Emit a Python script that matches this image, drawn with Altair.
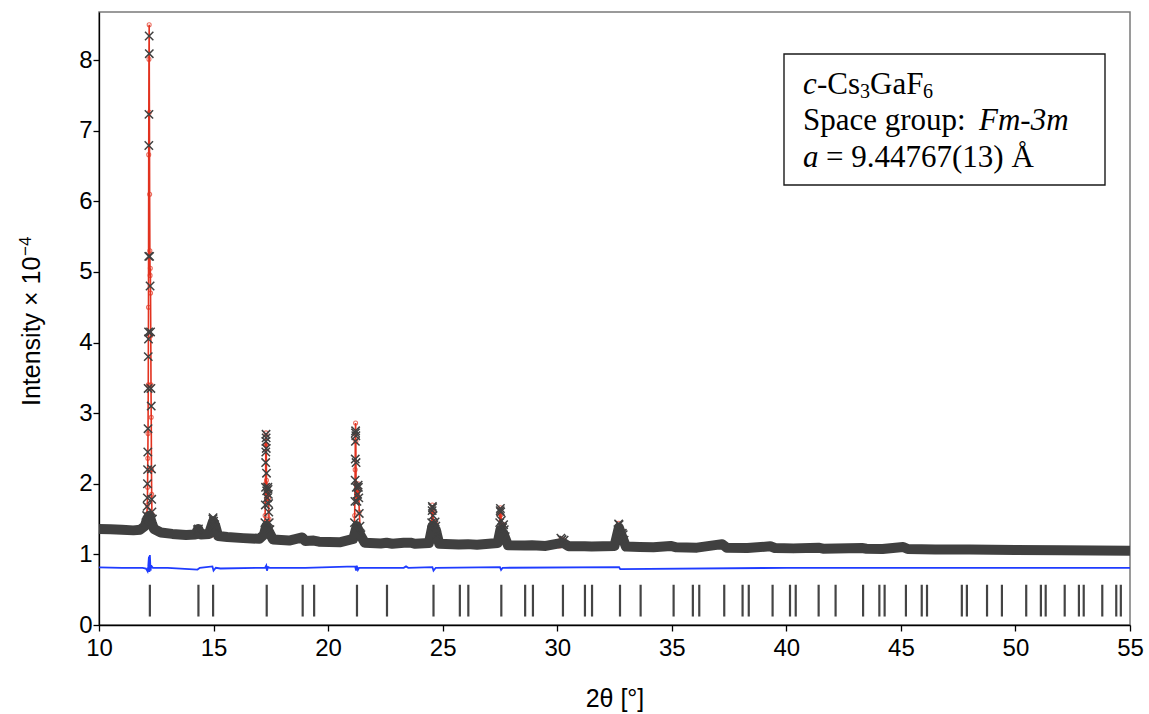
import altair as alt
import pandas as pd

# ---------------- data ----------------
# observed background band (centre line of the dense x-marker band)
band_x = [10.0, 10.5, 11.0, 11.5, 11.8, 12.0, 12.1, 12.2, 12.3, 12.4, 12.7, 13.2, 13.8, 14.2, 14.33,
          14.45, 14.8, 14.98, 15.08, 15.2, 15.6, 16.3, 17.0, 17.2, 17.3, 17.45, 17.6, 18.3, 18.87,
          19.0, 19.37, 19.6, 20.5, 21.1, 21.25, 21.4, 21.6, 22.3, 22.55, 22.8, 23.3, 23.6, 23.8,
          24.4, 24.55, 24.7, 24.85, 25.7, 26.1, 26.5, 27.4, 27.52, 27.65, 27.85, 28.6, 28.9, 29.5,
          30.15, 30.3, 30.5, 31.2, 31.5, 32.5, 32.69, 32.8, 33.0, 33.6, 34.2, 34.95, 35.2, 36.1,
          37.2, 37.4, 38.3, 39.3, 39.5, 40.3, 41.4, 41.6, 43.3, 43.5, 44.2, 45.1, 45.3, 46.5, 48.0,
          50.0, 52.0, 55.0]
band_y = [1.36, 1.355, 1.35, 1.34, 1.35, 1.40, 1.50, 1.55, 1.45, 1.36, 1.31, 1.29, 1.275, 1.28, 1.36,
          1.28, 1.29, 1.47, 1.40, 1.26, 1.245, 1.23, 1.22, 1.28, 1.40, 1.30, 1.21, 1.195, 1.24,
          1.19, 1.195, 1.18, 1.17, 1.22, 1.40, 1.28, 1.165, 1.155, 1.165, 1.15, 1.165, 1.165, 1.15,
          1.16, 1.40, 1.35, 1.15, 1.14, 1.145, 1.135, 1.16, 1.35, 1.30, 1.13, 1.125, 1.13, 1.12,
          1.16, 1.155, 1.115, 1.115, 1.11, 1.12, 1.38, 1.28, 1.11, 1.105, 1.10, 1.12, 1.10, 1.095,
          1.145, 1.095, 1.09, 1.115, 1.09, 1.085, 1.095, 1.08, 1.09, 1.08, 1.075, 1.105, 1.075, 1.07, 1.068,
          1.063, 1.058, 1.053]

# observed points on the peaks (x markers)
obs_x = [12.05, 12.08, 12.10, 12.11, 12.115, 12.12, 12.13, 12.14, 12.145, 12.15, 12.16, 12.165,
         12.17, 12.175, 12.18, 12.19, 12.195, 12.21, 12.23, 12.25, 12.265, 12.28, 12.29, 12.30, 12.31, 12.33,
         14.30, 14.34, 14.95, 14.97, 14.98, 15.00, 15.05, 15.08,
         17.24, 17.26, 17.27, 17.275, 17.28, 17.285, 17.29, 17.295, 17.30, 17.31, 17.32, 17.35, 17.37,
         17.38, 17.39, 17.40, 17.41, 17.43, 17.46,
         21.15, 21.17, 21.18, 21.185, 21.19, 21.195, 21.20, 21.21, 21.22, 21.23, 21.26, 21.29, 21.31,
         21.32, 21.34, 21.36, 21.39, 21.43,
         24.52, 24.54, 24.55, 24.56, 24.58, 24.62, 24.67, 24.70, 24.74,
         27.49, 27.51, 27.52, 27.53, 27.56, 27.62, 27.66, 27.69, 27.73,
         30.16, 30.21, 30.30,
         32.65, 32.68, 32.70, 32.74, 32.84, 32.88, 32.92]
obs_y = [1.45, 1.55, 1.68, 1.80, 2.00, 2.20, 2.45, 2.78, 3.35, 3.80, 4.05, 4.15,
         5.22, 6.79, 7.23, 8.34, 8.09, 5.22, 4.80, 4.15, 3.35, 3.10, 2.21, 1.78, 1.60, 1.50,
         1.35, 1.36, 1.40, 1.50, 1.52, 1.47, 1.42, 1.38,
         1.45, 1.70, 1.95, 2.30, 2.45, 2.60, 2.70, 2.65, 2.50, 2.15, 1.90, 1.80, 1.95,
         1.92, 1.85, 1.72, 1.60, 1.45, 1.35,
         1.45, 1.75, 2.05, 2.35, 2.60, 2.72, 2.75, 2.68, 2.30, 1.95, 1.75, 1.85, 1.98,
         1.95, 1.80, 1.58, 1.40, 1.28,
         1.45, 1.62, 1.68, 1.66, 1.55, 1.42, 1.46, 1.40, 1.28,
         1.45, 1.62, 1.65, 1.60, 1.48, 1.38, 1.42, 1.35, 1.25,
         1.23, 1.21, 1.20,
         1.35, 1.43, 1.42, 1.30, 1.30, 1.28, 1.20]

# calculated profile (red line with open circles), one segment per peak
calc_x = [12.00, 12.06, 12.09, 12.11, 12.12, 12.13, 12.14, 12.15, 12.16, 12.17, 12.18, 12.19, 12.20,
          12.21, 12.22, 12.23, 12.24, 12.25, 12.26, 12.27, 12.28, 12.29, 12.30, 12.31, 12.33, 12.37, 12.42,
          14.25, 14.33, 14.42,
          14.90, 14.95, 14.98, 15.01, 15.06, 15.10, 15.20,
          17.15, 17.22, 17.25, 17.27, 17.28, 17.29, 17.30, 17.31, 17.33, 17.36, 17.38, 17.40, 17.42,
          17.45, 17.52,
          21.05, 21.12, 21.16, 21.18, 21.19, 21.20, 21.21, 21.22, 21.25, 21.29, 21.31, 21.33, 21.36,
          21.40, 21.48,
          24.45, 24.50, 24.53, 24.55, 24.57, 24.60, 24.65, 24.68, 24.72, 24.78,
          27.42, 27.47, 27.50, 27.52, 27.54, 27.58, 27.63, 27.66, 27.70, 27.76,
          30.10, 30.17, 30.22, 30.30, 30.40,
          32.58, 32.64, 32.68, 32.71, 32.76, 32.82, 32.86, 32.92, 33.00]
calc_y = [1.40, 1.46, 1.57, 1.70, 1.95, 2.36, 2.71, 3.40, 4.50, 6.66, 8.01, 8.50, 7.26,
          6.10, 5.30, 4.95, 5.05, 4.70, 4.10, 3.40, 2.94, 2.20, 1.85, 1.57, 1.48, 1.42, 1.38,
          1.28, 1.36, 1.29,
          1.27, 1.38, 1.49, 1.42, 1.40, 1.30, 1.26,
          1.25, 1.35, 1.55, 2.00, 2.55, 2.72, 2.55, 2.05, 1.75, 1.85, 1.95, 1.80, 1.50,
          1.35, 1.25,
          1.22, 1.30, 1.55, 2.20, 2.70, 2.86, 2.60, 2.00, 1.75, 1.85, 2.00, 1.92, 1.60,
          1.35, 1.20,
          1.18, 1.35, 1.60, 1.70, 1.60, 1.42, 1.43, 1.45, 1.32, 1.18,
          1.16, 1.32, 1.58, 1.66, 1.56, 1.40, 1.40, 1.42, 1.30, 1.16,
          1.12, 1.22, 1.18, 1.20, 1.12,
          1.13, 1.30, 1.44, 1.38, 1.28, 1.30, 1.31, 1.20, 1.12]
calc_seg = ([1] * 27 + [2] * 3 + [3] * 7 + [4] * 15 + [5] * 15 + [6] * 10 + [7] * 10
            + [8] * 5 + [9] * 9)

# difference curve (blue)
diff_x = [10.0, 11.0, 11.9, 12.05, 12.12, 12.15, 12.18, 12.20, 12.22, 12.25, 12.28, 12.35, 13.0,
          14.3, 14.4, 14.95, 15.0, 15.1, 15.3, 17.25, 17.30, 17.33, 17.38, 17.45, 19.0,
          21.18, 21.22, 21.25, 21.30, 21.35, 23.3, 23.4, 23.5, 24.55, 24.60, 24.70,
          27.50, 27.55, 27.62, 32.70, 32.75, 40.0, 55.0]
diff_y = [0.815, 0.81, 0.81, 0.80, 0.76, 0.83, 0.97, 0.75, 0.99, 0.77, 0.84, 0.81, 0.81,
          0.785, 0.81, 0.83, 0.77, 0.81, 0.80, 0.81, 0.84, 0.77, 0.82, 0.81, 0.81,
          0.83, 0.77, 0.84, 0.78, 0.81, 0.81, 0.83, 0.81, 0.82, 0.77, 0.81,
          0.82, 0.78, 0.81, 0.82, 0.79, 0.81, 0.81]

# Bragg reflection positions (2theta, deg)
hkl_pos = [12.22, 14.34, 14.98, 17.32, 18.89, 19.39, 21.26, 22.57, 24.60, 25.75, 26.12, 27.56,
           28.60, 28.94, 30.25, 31.21, 31.52, 32.74, 33.64, 35.08, 35.92, 36.20, 37.29, 38.09,
           38.36, 39.40, 40.16, 40.41, 41.41, 42.15, 43.35, 44.06, 44.29, 45.22, 45.91, 46.14,
           47.66, 47.88, 48.76, 49.41, 50.47, 51.11, 51.32, 52.15, 52.77, 52.98, 53.79, 54.40, 54.60]

x_ticks = [10, 15, 20, 25, 30, 35, 40, 45, 50, 55]
y_ticks = [0, 1, 2, 3, 4, 5, 6, 7, 8]

# ---------------- chart ----------------
SANS = "Liberation Sans"
SERIF = "Liberation Serif"
xs = alt.Scale(domain=[10, 55], nice=False, zero=False)
ys = alt.Scale(domain=[0, 8.68], nice=False, zero=False)

x_axis = alt.Axis(
    values=x_ticks, format="d", title="2θ [°]", grid=False, labelFont=SANS, labelFontSize=24,
    labelColor="black", labelPadding=5, tickSize=6, tickColor="black", tickWidth=1.3,
    domainColor="black", domainWidth=1.3, titleFont=SANS, titleFontSize=25,
    titleFontWeight="normal", titleColor="black", titlePadding=26, labelFlush=False)
y_axis = alt.Axis(
    values=y_ticks, format="d", title=None, grid=False, labelFont=SANS, labelFontSize=24,
    labelColor="black", labelPadding=1, tickSize=6, tickColor="black", tickWidth=1.3,
    domainColor="black", domainWidth=1.3, labelFlush=False)
X = alt.X("x:Q", scale=xs, axis=x_axis)
Y = alt.Y("y:Q", scale=ys, axis=y_axis)

calc_df = pd.DataFrame({"x": calc_x, "y": calc_y, "seg": calc_seg})
band_df = pd.DataFrame({"x": band_x, "y": band_y})
obs_df = pd.DataFrame({"x": obs_x, "y": obs_y})
diff_df = pd.DataFrame({"x": diff_x, "y": diff_y})
hkl_df = pd.DataFrame({"x": hkl_pos})

RED = "#e2321f"
DARK = "#404040"

calc_line = alt.Chart(calc_df).mark_line(color=RED, strokeWidth=1.6).encode(
    x=X, y=Y, detail="seg:N", order="x:Q")
calc_pts = alt.Chart(calc_df).mark_point(shape="circle", size=16, color=RED, filled=False,
                                         strokeWidth=1.1).encode(x=X, y=Y)
band = alt.Chart(band_df).mark_line(color=DARK, strokeWidth=10, strokeJoin="round").encode(
    x=X, y=Y, order="x:Q")
obs_pts = alt.Chart(obs_df).mark_point(shape="M-1,-1L1,1M-1,1L1,-1", size=70, color=DARK,
                                       filled=False, strokeWidth=1.5, opacity=1).encode(x=X, y=Y)
diff_line = alt.Chart(diff_df).mark_line(color="#1f3cff", strokeWidth=1.8).encode(
    x=X, y=Y, order="x:Q")
hkl = alt.Chart(hkl_df).mark_rule(color="#444444", strokeWidth=2.2).encode(
    x=X, y=alt.datum(0.12), y2=alt.datum(0.57))

# annotation box (pixel positions inside the plot area)
box = alt.Chart(pd.DataFrame({"a": [0]})).mark_rect(
    fill="white", stroke="#1a1a1a", strokeWidth=1.4).encode(
    x=alt.value(685), x2=alt.value(1006), y=alt.value(42), y2=alt.value(173))


def txt(s, px, py, size=31, style="normal", font=SERIF, angle=0):
    return alt.Chart(pd.DataFrame({"t": [s]})).mark_text(
        align="left", baseline="alphabetic", font=font, fontSize=size, fontStyle=style,
        angle=angle, color="black").encode(x=alt.value(px), y=alt.value(py), text="t:N")


texts = [
    txt("c", 704, 82, style="italic"),
    txt("-Cs", 718, 82),
    txt("3", 761, 86, size=20),
    txt("GaF", 771, 82),
    txt("6", 824, 86, size=20),
    txt("Space group:", 704, 118),
    txt("Fm-3m", 880, 118, style="italic"),
    txt("a", 704, 155, style="italic"),
    txt("= 9.44767(13) Å", 727, 155),
    # y-axis title with superscript exponent
    txt("Intensity × 10", -59, 394, size=25, font=SANS, angle=270),
    txt("−4", -68, 244, size=17, font=SANS, angle=270),
]

chart = alt.layer(calc_line, calc_pts, band, obs_pts, diff_line, hkl, box, *texts).properties(
    width=1031, height=613,
    autosize=alt.AutoSizeParams(type="none"),
    padding={"left": 99, "top": 12, "right": 19, "bottom": 89},
    background="white",
).configure_view(stroke="#7a7a7a", strokeWidth=1.5)

chart.save("out.html", embed_options={"renderer": "svg", "actions": False})
